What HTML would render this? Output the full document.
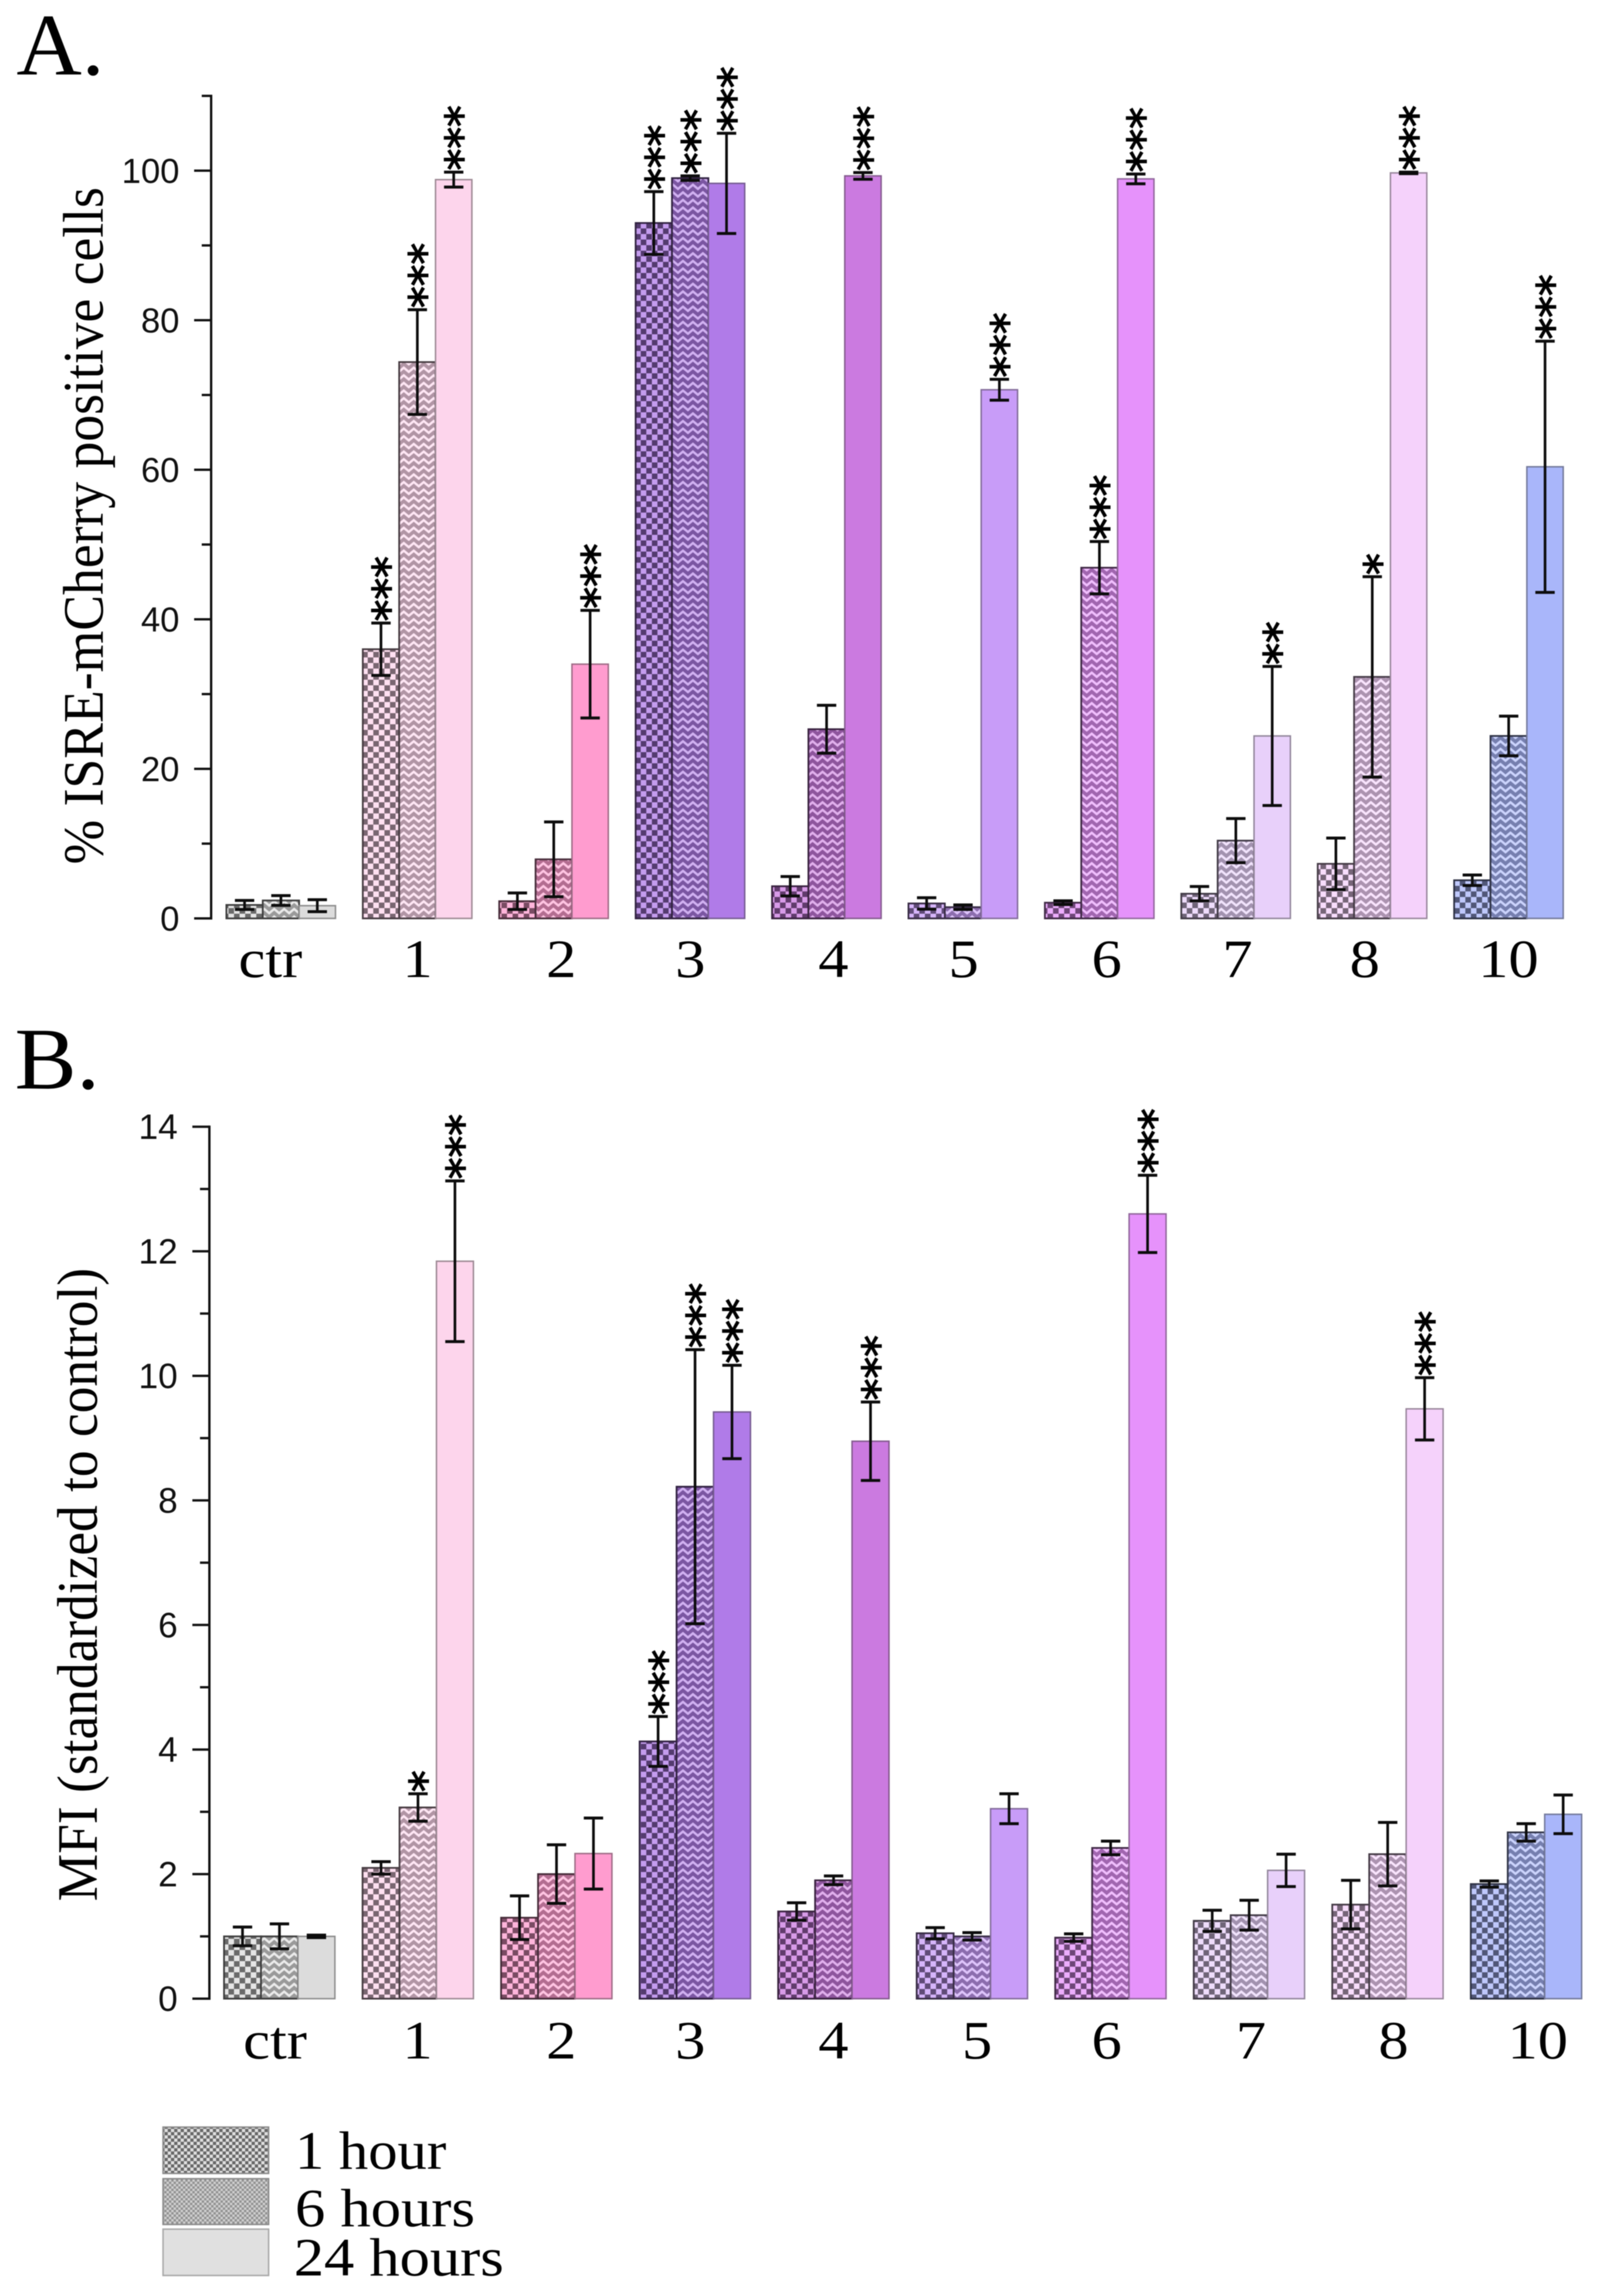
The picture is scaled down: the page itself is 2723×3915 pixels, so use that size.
<!DOCTYPE html>
<html lang="en">
<head>
<meta charset="utf-8">
<title>ISRE-mCherry positive cells and MFI</title>
<style>
html,body{margin:0;padding:0;background:#fff;width:2723px;height:3915px;overflow:hidden}
svg{display:block;filter:blur(0.7px)}
.serif{font-family:"Liberation Serif",serif;fill:#000}
.sans{font-family:"Liberation Sans",sans-serif;fill:#111}
.cat{font-size:92px;text-anchor:middle}
.letter{font-size:150px}
.legend-text{font-size:92px}
</style>
</head>
<body>
<svg id="chart" xmlns="http://www.w3.org/2000/svg" width="2723" height="3915" viewBox="0 0 2723 3915">
  <defs id="defs">
    <pattern id="legend-check" width="11" height="11" patternUnits="userSpaceOnUse"><rect width="11" height="11" fill="#dedede"/><rect width="5.5" height="5.5" fill="#686868"/><rect x="5.5" y="5.5" width="5.5" height="5.5" fill="#686868"/></pattern>
    <pattern id="legend-zig" width="8" height="8" patternUnits="userSpaceOnUse"><rect width="8" height="8" fill="#cfcfcf"/><rect width="4" height="4" fill="#929292"/><rect x="4" y="4" width="4" height="4" fill="#929292"/></pattern>
  </defs>

  <text class="serif letter" x="28" y="127" textLength="150" lengthAdjust="spacingAndGlyphs">A.</text>
  <text class="serif letter" x="25" y="1856" textLength="145" lengthAdjust="spacingAndGlyphs">B.</text>

  <text class="serif" font-size="98" transform="translate(175,1474) rotate(-90)" textLength="1155" lengthAdjust="spacingAndGlyphs">% ISRE-mCherry positive cells</text>
  <text class="serif" font-size="98" transform="translate(165,3242) rotate(-90)" textLength="1080" lengthAdjust="spacingAndGlyphs">MFI (standardized to control)</text>

  <g id="panel-a"></g>
  <g id="panel-b"></g>

  <g>
    <text class="serif cat" transform="translate(461,1666) scale(1.12,1)">ctr</text>
    <text class="serif cat" transform="translate(712,1666) scale(1.12,1)">1</text>
    <text class="serif cat" transform="translate(957,1666) scale(1.12,1)">2</text>
    <text class="serif cat" transform="translate(1177,1666) scale(1.12,1)">3</text>
    <text class="serif cat" transform="translate(1421,1666) scale(1.12,1)">4</text>
    <text class="serif cat" transform="translate(1643,1666) scale(1.12,1)">5</text>
    <text class="serif cat" transform="translate(1887,1666) scale(1.12,1)">6</text>
    <text class="serif cat" transform="translate(2110,1666) scale(1.12,1)">7</text>
    <text class="serif cat" transform="translate(2327,1666) scale(1.12,1)">8</text>
    <text class="serif cat" transform="translate(2572,1666) scale(1.12,1)">10</text>
  </g>
  <g>
    <text class="serif cat" transform="translate(469,3510) scale(1.12,1)">ctr</text>
    <text class="serif cat" transform="translate(712,3510) scale(1.12,1)">1</text>
    <text class="serif cat" transform="translate(957,3510) scale(1.12,1)">2</text>
    <text class="serif cat" transform="translate(1177,3510) scale(1.12,1)">3</text>
    <text class="serif cat" transform="translate(1421,3510) scale(1.12,1)">4</text>
    <text class="serif cat" transform="translate(1666,3510) scale(1.12,1)">5</text>
    <text class="serif cat" transform="translate(1887,3510) scale(1.12,1)">6</text>
    <text class="serif cat" transform="translate(2133,3510) scale(1.12,1)">7</text>
    <text class="serif cat" transform="translate(2376,3510) scale(1.12,1)">8</text>
    <text class="serif cat" transform="translate(2622,3510) scale(1.12,1)">10</text>
  </g>

  <g>
    <g>
      <rect x="278" y="3627" width="180" height="79" fill="url(#legend-check)" stroke="#8a8a8a" stroke-width="2.5"/>
      <text class="serif legend-text" x="503" y="3698" textLength="258" lengthAdjust="spacingAndGlyphs">1 hour</text>
    </g>
    <g>
      <rect x="278" y="3715" width="180" height="78" fill="url(#legend-zig)" stroke="#8a8a8a" stroke-width="2.5"/>
      <text class="serif legend-text" x="503" y="3796" textLength="307" lengthAdjust="spacingAndGlyphs">6 hours</text>
    </g>
    <g>
      <rect x="278" y="3801" width="180" height="79" fill="#e0e0e0" stroke="#a8a8a8" stroke-width="2.5"/>
      <text class="serif legend-text" x="501" y="3880" textLength="358" lengthAdjust="spacingAndGlyphs">24 hours</text>
    </g>
  </g>
</svg>

<script>
// ---- shared data ----
const categories = ['ctr', '1', '2', '3', '4', '5', '6', '7', '8', '10'];
const groupColors = ['#dcdcdc', '#fdd5ec', '#ff9ccf', '#b07be8', '#cb7ae0', '#c89cf8', '#e692fb', '#e8d0fa', '#f5d2fb', '#a9b6fa'];

// ---- panel A: % ISRE-mCherry positive cells ----
const aHour1 = [1.8, 36, 2.3, 93, 4.3, 2.0, 2.1, 3.3, 7.3, 5.1];
const aHour6 = [2.4, 74.4, 7.9, 99, 25.3, 1.5, 46.9, 10.4, 32.3, 24.4];
const aHour24 = [1.7, 98.8, 34, 98.3, 99.3, 70.7, 98.9, 24.4, 99.7, 60.4];
const aHour1Err = [0.6, 3.5, 1.1, 4.2, 1.3, 0.76, 0.25, 0.96, 3.45, 0.7];
const aHour6Err = [0.65, 7, 5, 0.3, 3.2, 0.3, 3.5, 2.95, 13.4, 2.65];
const aHour24Err = [0.8, 1, 7.2, 6.7, 0.45, 1.4, 0.65, 9.3, 0.1, 16.8];
const aHour1Stars = [0, 3, 0, 3, 0, 0, 0, 0, 0, 0];
const aHour6Stars = [0, 3, 0, 3, 0, 0, 3, 0, 1, 0];
const aHour24Stars = [0, 3, 3, 3, 3, 3, 3, 2, 3, 3];
const aMajorTicks = [0, 20, 40, 60, 80, 100];
const aMinorTicks = [10, 30, 50, 70, 90, 110];

// ---- panel B: MFI ----
const bHour1 = [1, 2.1, 1.3, 4.13, 1.4, 1.05, 0.98, 1.25, 1.51, 1.84];
const bHour6 = [1, 3.07, 2, 8.22, 1.9, 1.0, 2.42, 1.34, 2.32, 2.67];
const bHour24 = [1, 11.84, 2.33, 9.42, 8.95, 3.05, 12.6, 2.06, 9.47, 2.96];
const bHour1Err = [0.15, 0.1, 0.35, 0.4, 0.14, 0.09, 0.06, 0.17, 0.39, 0.05];
const bHour6Err = [0.2, 0.22, 0.47, 2.2, 0.07, 0.06, 0.11, 0.24, 0.51, 0.14];
const bHour24Err = [0.02, 1.29, 0.57, 0.75, 0.63, 0.24, 0.62, 0.26, 0.5, 0.31];
const bHour1Stars = [0, 0, 0, 3, 0, 0, 0, 0, 0, 0];
const bHour6Stars = [0, 1, 0, 3, 0, 0, 0, 0, 0, 0];
const bHour24Stars = [0, 3, 0, 3, 3, 0, 3, 0, 3, 0];
const bMajorTicks = [0, 2, 4, 6, 8, 10, 12, 14];
const bMinorTicks = [1, 3, 5, 7, 9, 11, 13];

const NS = 'http://www.w3.org/2000/svg';
const defs = document.getElementById('defs');

function mix(hex, target, t) {
  const c = [1, 3, 5].map(function (i) { return parseInt(hex.substr(i, 2), 16); });
  const m = c.map(function (v) { return Math.round(v + (target - v) * t); });
  return 'rgb(' + m.join(',') + ')';
}

function node(tag, parent) {
  const el = document.createElementNS(NS, tag);
  parent.appendChild(el);
  return el;
}

function makePatterns(color, i) {
  const dark = mix(color, 0, 0.52);
  const light = mix(color, 255, 0.25);

  const check = node('pattern', defs);
  check.setAttribute('id', 'check-' + i);
  check.setAttribute('width', 19);
  check.setAttribute('height', 19);
  check.setAttribute('patternUnits', 'userSpaceOnUse');
  const checkBg = node('rect', check);
  checkBg.setAttribute('width', 19);
  checkBg.setAttribute('height', 19);
  checkBg.setAttribute('fill', light);
  const checkPath = node('path', check);
  checkPath.setAttribute('d', 'M0 0h9.5v9.5h-9.5zM9.5 9.5h9.5v9.5h-9.5z');
  checkPath.setAttribute('fill', dark);

  // herringbone: pale zigzag strokes over a mid-tone ground
  const zig = node('pattern', defs);
  zig.setAttribute('id', 'zig-' + i);
  zig.setAttribute('width', 17);
  zig.setAttribute('height', 13);
  zig.setAttribute('patternUnits', 'userSpaceOnUse');
  const zigBg = node('rect', zig);
  zigBg.setAttribute('width', 17);
  zigBg.setAttribute('height', 13);
  zigBg.setAttribute('fill', mix(color, 0, 0.3));
  const zigPath = node('path', zig);
  zigPath.setAttribute('d', 'M-1 11L8.5 3L18 11M-1 24L8.5 16L18 24M-1 -2L8.5 -10L18 -2');
  zigPath.setAttribute('fill', 'none');
  zigPath.setAttribute('stroke', mix(color, 255, 0.4));
  zigPath.setAttribute('stroke-width', 4);
}
groupColors.forEach(makePatterns);

function drawAxis(root, cfg) {
  const y = function (v) { return cfg.y0 - v * cfg.pxPerUnit; };

  const axis = node('line', root);
  
  
  axis.setAttribute('x1', cfg.axisX);
  axis.setAttribute('x2', cfg.axisX);
  axis.setAttribute('y1', y(cfg.axisMax) - 2);
  axis.setAttribute('y2', y(0) + 2);
  axis.setAttribute('stroke', '#111');
  axis.setAttribute('stroke-width', 4);

  cfg.major.forEach(function (v) {
    const t = node('line', root);
    
    
    t.setAttribute('x1', cfg.axisX - 29);
    t.setAttribute('x2', cfg.axisX);
    t.setAttribute('y1', y(v));
    t.setAttribute('y2', y(v));
    t.setAttribute('stroke', '#111');
    t.setAttribute('stroke-width', 4);

    const label = node('text', root);
    
    
    label.setAttribute('class', 'sans');
    label.setAttribute('x', cfg.labelRight);
    label.setAttribute('y', y(v) + 21);
    label.setAttribute('text-anchor', 'end');
    label.setAttribute('font-size', cfg.labelSize);
    label.textContent = String(v);
  });

  cfg.minor.forEach(function (v) {
    const t = node('line', root);
    
    
    t.setAttribute('x1', cfg.axisX - 16);
    t.setAttribute('x2', cfg.axisX);
    t.setAttribute('y1', y(v));
    t.setAttribute('y2', y(v));
    t.setAttribute('stroke', '#111');
    t.setAttribute('stroke-width', 4);
  });
}

function drawSeries(root, cfg, values, errors, stars, kind) {
  const y = function (v) { return cfg.y0 - v * cfg.pxPerUnit; };
  const x = function (g) { return cfg.groupX0 + g * cfg.groupStep + kind * cfg.barW; };

  values.forEach(function (v, g) {
    const color = groupColors[g];
    const bar = node('rect', root);
    
    
    bar.setAttribute('x', x(g));
    bar.setAttribute('y', y(v));
    bar.setAttribute('width', cfg.barW);
    bar.setAttribute('height', cfg.y0 - y(v));
    if (kind === 0) bar.setAttribute('fill', 'url(#check-' + g + ')');
    if (kind === 1) bar.setAttribute('fill', 'url(#zig-' + g + ')');
    if (kind === 2) bar.setAttribute('fill', color);
    bar.setAttribute('stroke', kind === 2 ? mix(color, 60, 0.5) : mix(color, 0, 0.72));
    bar.setAttribute('stroke-width', kind === 2 ? 2.5 : 3);
  });

  values.forEach(function (v, g) {
    const cx = x(g) + cfg.barW / 2;
    const top = y(v + errors[g]);
    const bottom = y(v - errors[g]);

    const stem = node('line', root);
    
    
    stem.setAttribute('x1', cx);
    stem.setAttribute('x2', cx);
    stem.setAttribute('y1', top);
    stem.setAttribute('y2', bottom);
    stem.setAttribute('stroke', '#0c0c0c');
    stem.setAttribute('stroke-width', 4.5);

    [top, bottom].forEach(function (capY) {
      const cap = node('line', root);
      
      
      cap.setAttribute('x1', cx - 16.5);
      cap.setAttribute('x2', cx + 16.5);
      cap.setAttribute('y1', capY);
      cap.setAttribute('y2', capY);
      cap.setAttribute('stroke', '#0c0c0c');
      cap.setAttribute('stroke-width', 5);
    });

    if (stars[g] > 0) {
      const star = node('text', root);
      
      
      star.setAttribute('font-family', '"DejaVu Sans", sans-serif');
      star.setAttribute('font-size', 74);
      star.setAttribute('fill', '#000');
      star.setAttribute('stroke', '#000');
      star.setAttribute('stroke-width', 2);
      star.setAttribute('transform', 'translate(' + (cx + 39) + ',' + (top - 3) + ') rotate(-90)');
      star.textContent = '*'.repeat(stars[g]);
    }
  });
}

const panelA = {
  y0: 1566, pxPerUnit: 12.75, axisX: 360, axisMax: 110, labelRight: 306, labelSize: 59,
  groupX0: 386, groupStep: 232.6, barW: 62, major: aMajorTicks, minor: aMinorTicks
};
const panelB = {
  y0: 3408, pxPerUnit: 106.2, axisX: 357, axisMax: 14, labelRight: 303, labelSize: 60,
  groupX0: 382, groupStep: 236.2, barW: 63, major: bMajorTicks, minor: bMinorTicks
};

const rootA = document.getElementById('panel-a');
const rootB = document.getElementById('panel-b');

drawAxis(rootA, panelA);
drawSeries(rootA, panelA, aHour1, aHour1Err, aHour1Stars, 0);
drawSeries(rootA, panelA, aHour6, aHour6Err, aHour6Stars, 1);
drawSeries(rootA, panelA, aHour24, aHour24Err, aHour24Stars, 2);

drawAxis(rootB, panelB);
drawSeries(rootB, panelB, bHour1, bHour1Err, bHour1Stars, 0);
drawSeries(rootB, panelB, bHour6, bHour6Err, bHour6Stars, 1);
drawSeries(rootB, panelB, bHour24, bHour24Err, bHour24Stars, 2);
</script>
</body>
</html>
